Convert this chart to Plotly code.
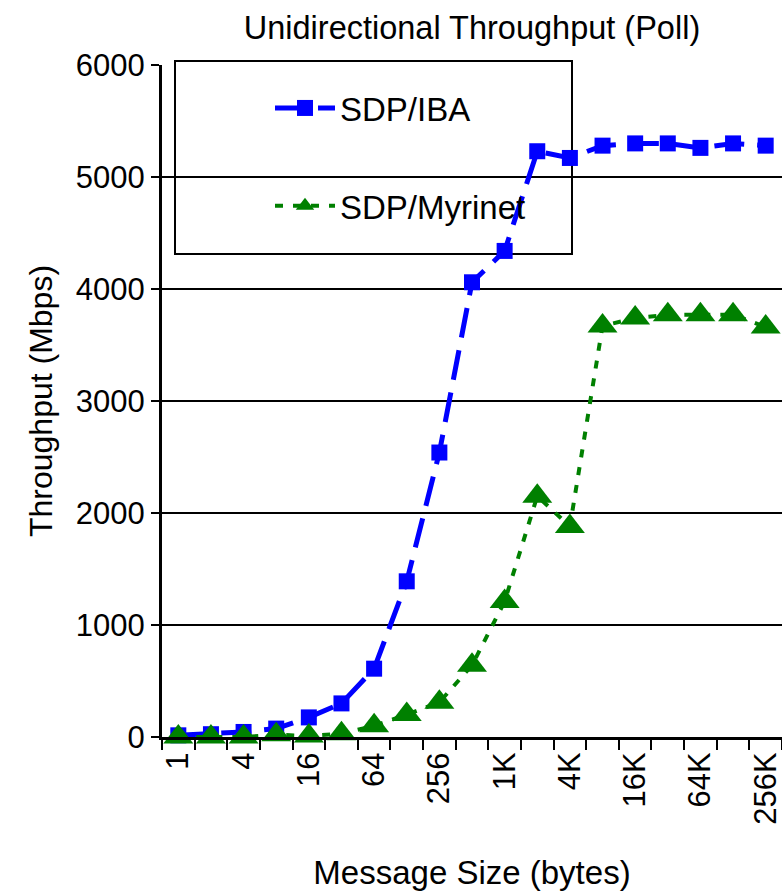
import plotly.graph_objects as go

sizes = ["1", "2", "4", "8", "16", "32", "64", "128", "256", "512", "1K", "2K",
         "4K", "8K", "16K", "32K", "64K", "128K", "256K"]
iba = [15, 25, 45, 75, 175, 300, 610, 1390, 2540, 4060, 4340, 5230,
       5170, 5280, 5300, 5300, 5260, 5300, 5280]
myrinet = [0, 0, 0, 20, 10, 30, 100, 200, 310, 640, 1210, 2150,
           1880, 3670, 3740, 3770, 3770, 3770, 3660]
tick_labels = ["1", "4", "16", "64", "256", "1K", "4K", "16K", "64K", "256K"]

xs = list(range(len(sizes)))
tickvals = [sizes.index(t) for t in tick_labels]

FONT = "Arial, Liberation Sans, sans-serif"
W, H = 782, 891
L, R, T, B = 162, 0, 65, 154
pw, ph = W - L - R, H - T - B

fig = go.Figure()
fig.add_trace(go.Scatter(
    x=xs, y=iba, name="SDP/IBA", mode="lines+markers", legendgroup="a",
    line=dict(color="#0000FF", width=5, dash="30px,13px"),
    marker=dict(symbol="square", size=16, color="#0000FF"),
    cliponaxis=False))
fig.add_trace(go.Scatter(
    x=xs, y=myrinet, name="SDP/Myrinet", mode="lines+markers", legendgroup="b",
    line=dict(color="#008000", width=4, dash="8px,10px"),
    marker=dict(symbol="triangle-up", size=26, color="#008000"),
    cliponaxis=False))

def px_x(p):
    return (p - L) / pw

def px_y(p):
    return (H - B - p) / ph

fig.add_shape(type="rect", xref="paper", yref="paper",
              x0=px_x(175), x1=px_x(572), y0=px_y(254), y1=px_y(61),
              line=dict(color="black", width=2), fillcolor="white", layer="below")

fig.update_layout(
    width=W, height=H,
    margin=dict(l=L, r=R, t=T, b=B, autoexpand=False),
    paper_bgcolor="white", plot_bgcolor="white",
    font=dict(family=FONT, size=31, color="black"),
    title=dict(text="Unidirectional Throughput (Poll)", x=(L + pw / 2) / W, xanchor="center",
               y=1 - 28 / H, yanchor="middle", font=dict(size=32.5)),
    showlegend=True,
    legend=dict(x=px_x(270), y=px_y(80), xanchor="left", yanchor="top",
                bgcolor="rgba(0,0,0,0)", borderwidth=0,
                font=dict(size=33), tracegroupgap=52, itemwidth=60),
    xaxis=dict(range=[-0.5, len(sizes) - 0.5], tickmode="array", tickvals=tickvals,
               ticktext=tick_labels, tickangle=-90, ticks="",
               ticklabeloverflow="allow", automargin=False,
               showgrid=False, zeroline=False,
               showline=True, linecolor="black", linewidth=3,
               minor=dict(tickmode="linear", tick0=-0.5, dtick=1, ticks="outside",
                          ticklen=10, tickwidth=2, tickcolor="black", showgrid=False),
               tickfont=dict(size=31),
               title=dict(text="Message Size (bytes)", font=dict(size=33), standoff=40)),
    yaxis=dict(range=[0, 6000], dtick=1000, ticks="outside", ticklen=8, tickwidth=2,
               tickcolor="black", automargin=False,
               showgrid=True, gridcolor="black", gridwidth=2, zeroline=False,
               showline=True, linecolor="black", linewidth=3,
               tickfont=dict(size=31),
               title=dict(text="Throughput (Mbps)", font=dict(size=32), standoff=14)),
)

fig.write_html("out.html")
